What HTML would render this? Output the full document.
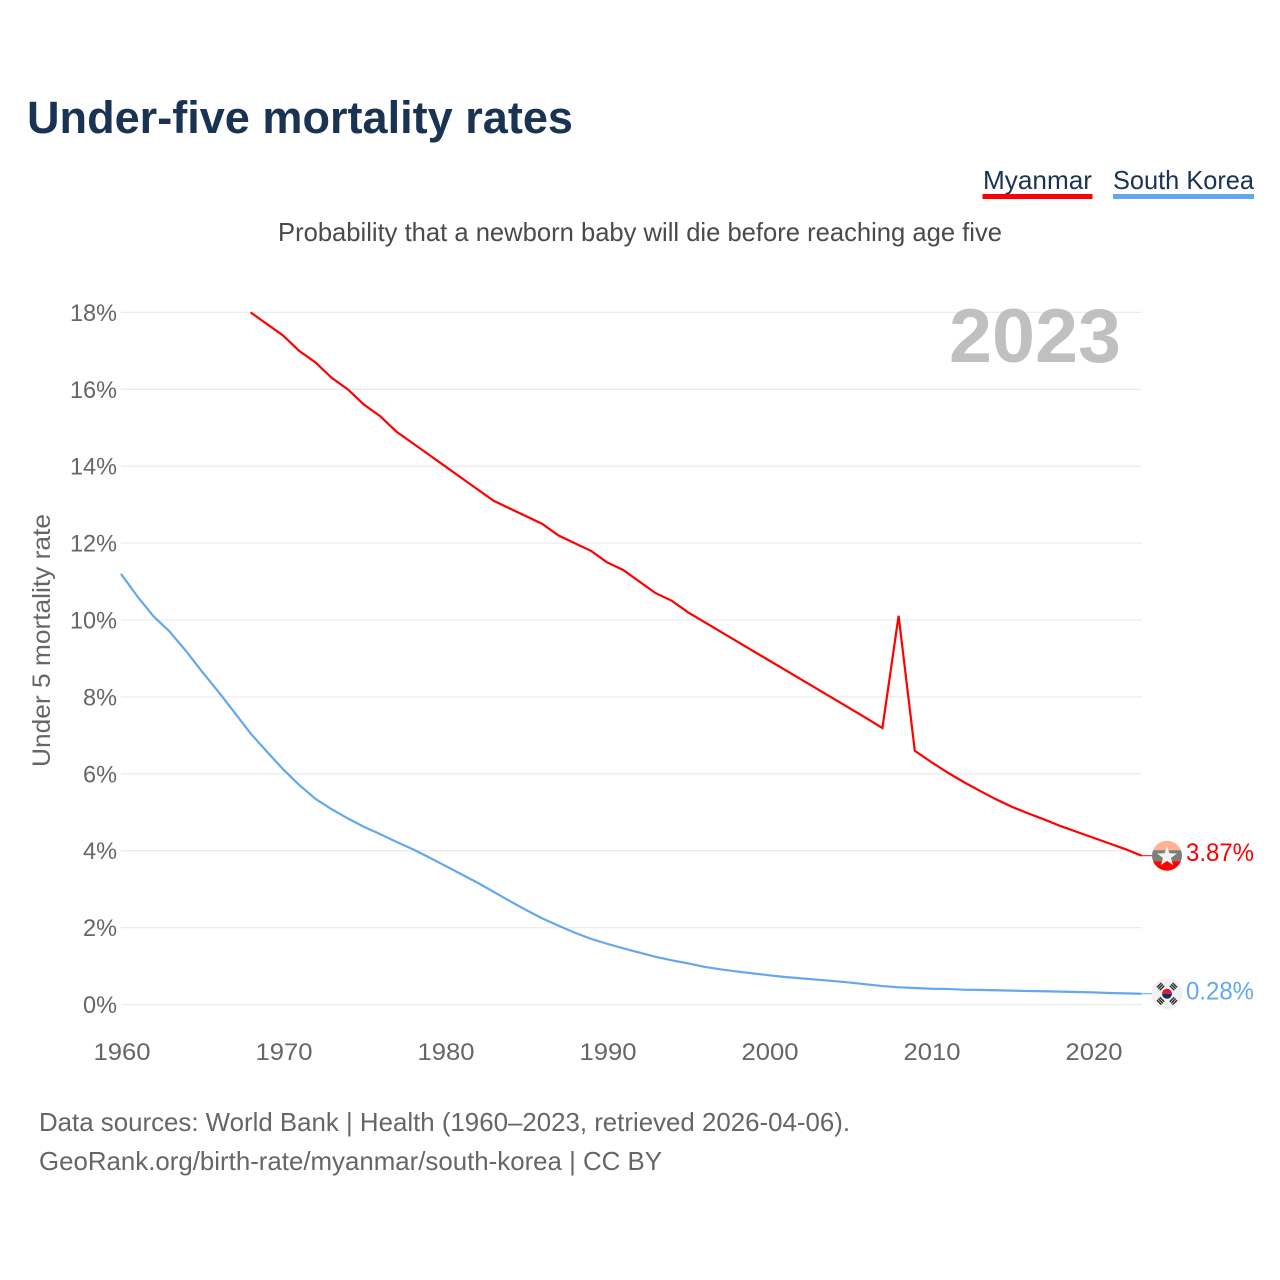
<!DOCTYPE html>
<html lang="en">
<head>
<meta charset="utf-8">
<title>Under-five mortality rates</title>
<style>
html,body{margin:0;padding:0;background:#fff;width:1280px;height:1280px;overflow:hidden}
svg{display:block}
text{font-family:"Liberation Sans",sans-serif}
</style>
</head>
<body>
<svg id="chart" xmlns="http://www.w3.org/2000/svg" width="1280" height="1280" viewBox="0 0 1280 1280">
  <defs>
    <clipPath id="clip-mm"><circle id="clip-mm-c" r="15"/></clipPath>
    <clipPath id="clip-kr"><circle id="clip-kr-c" r="15.5"/></clipPath>
  </defs>
  <rect width="1280" height="1280" fill="#fff"/>
  <text x="27" y="133" font-size="45" font-weight="700" fill="#1a3353" textLength="546" lengthAdjust="spacingAndGlyphs">Under-five mortality rates</text>
  <text x="983" y="189" font-size="26" fill="#1a3353" textLength="109" lengthAdjust="spacingAndGlyphs">Myanmar</text>
  <rect x="982.5" y="194" width="110" height="5" fill="#ff0000"/>
  <text x="1113" y="189" font-size="26" fill="#1a3353" textLength="141" lengthAdjust="spacingAndGlyphs">South Korea</text>
  <rect x="1113" y="194" width="141" height="5" fill="#64a7f0"/>
  <text x="278" y="241" font-size="26" fill="#4a4a4a" textLength="724" lengthAdjust="spacingAndGlyphs">Probability that a newborn baby will die before reaching age five</text>
  <g id="grid"></g>
  <text x="949" y="362" font-size="76" font-weight="700" fill="#c0c0c0" textLength="172" lengthAdjust="spacingAndGlyphs">2023</text>
  <g id="yticks"></g>
  <g id="xticks"></g>
  <text transform="translate(50,767) rotate(-90)" font-size="25" fill="#666" textLength="253" lengthAdjust="spacingAndGlyphs">Under 5 mortality rate</text>
  <g id="series"></g>
  <g id="ends"></g>
  <text x="39" y="1131" font-size="26" fill="#666" textLength="811" lengthAdjust="spacingAndGlyphs">Data sources: World Bank | Health (1960–2023, retrieved 2026-04-06).</text>
  <text x="39" y="1170" font-size="26" fill="#666" textLength="623" lengthAdjust="spacingAndGlyphs">GeoRank.org/birth-rate/myanmar/south-korea | CC BY</text>
</svg>
<script>
const yTickValues = [0, 2, 4, 6, 8, 10, 12, 14, 16, 18];
const xTickYears = [1960, 1970, 1980, 1990, 2000, 2010, 2020];
const myanmarYears = [1968,1969,1970,1971,1972,1973,1974,1975,1976,1977,1978,1979,1980,1981,1982,1983,1984,1985,1986,1987,1988,1989,1990,1991,1992,1993,1994,1995,1996,1997,1998,1999,2000,2001,2002,2003,2004,2005,2006,2007,2008,2009,2010,2011,2012,2013,2014,2015,2016,2017,2018,2019,2020,2021,2022,2023];
const myanmarValues = [18.0,17.7,17.4,17.0,16.7,16.3,16.0,15.6,15.3,14.9,14.6,14.3,14.0,13.7,13.4,13.1,12.9,12.7,12.5,12.2,12.0,11.8,11.5,11.3,11.0,10.7,10.5,10.2,9.95,9.7,9.45,9.2,8.95,8.7,8.45,8.2,7.95,7.7,7.45,7.19,10.11,6.6,6.31,6.04,5.79,5.56,5.34,5.14,4.97,4.81,4.64,4.49,4.34,4.19,4.04,3.87];
const koreaYears = [1960,1961,1962,1963,1964,1965,1966,1967,1968,1969,1970,1971,1972,1973,1974,1975,1976,1977,1978,1979,1980,1981,1982,1983,1984,1985,1986,1987,1988,1989,1990,1991,1992,1993,1994,1995,1996,1997,1998,1999,2000,2001,2002,2003,2004,2005,2006,2007,2008,2009,2010,2011,2012,2013,2014,2015,2016,2017,2018,2019,2020,2021,2022,2023];
const koreaValues = [11.2,10.62,10.1,9.7,9.2,8.66,8.14,7.6,7.05,6.58,6.12,5.71,5.35,5.08,4.84,4.62,4.43,4.23,4.04,3.83,3.61,3.39,3.17,2.93,2.69,2.46,2.24,2.05,1.87,1.71,1.58,1.46,1.35,1.24,1.15,1.07,0.98,0.915,0.86,0.81,0.76,0.715,0.68,0.645,0.61,0.57,0.525,0.48,0.447,0.43,0.41,0.405,0.385,0.38,0.37,0.36,0.35,0.345,0.335,0.325,0.315,0.3,0.29,0.28];

const NS = 'http://www.w3.org/2000/svg';
const xScale = function (year) { return 121 + (year - 1960) * 16.2; };
const yScale = function (pct) { return 1004.5 - pct * 38.45; };

function make(tag, parent, attrs, text) {
  const el = document.createElementNS(NS, tag);
  for (const k in attrs) el.setAttribute(k, attrs[k]);
  if (text !== undefined) el.textContent = text;
  parent.appendChild(el);
  return el;
}

const grid = document.getElementById('grid');
const yticks = document.getElementById('yticks');
const xticks = document.getElementById('xticks');
const series = document.getElementById('series');
const ends = document.getElementById('ends');
const endX = xScale(2023);

yTickValues.forEach(function (v) {
  const line = make('line', grid, {x1: xScale(1960), x2: endX, y1: yScale(v), y2: yScale(v), stroke: '#ececec', 'stroke-width': 1.3});
  
  
  const label = make('text', yticks, {x: 117, y: yScale(v) + 8.5, 'text-anchor': 'end', 'font-size': 24, fill: '#666', textLength: (v >= 10 ? 47 : 34), lengthAdjust: 'spacingAndGlyphs'}, v + '%');
  
  
});

xTickYears.forEach(function (year) {
  const label = make('text', xticks, {x: xScale(year) + 1, y: 1060, 'text-anchor': 'middle', 'font-size': 24, fill: '#666', textLength: 57, lengthAdjust: 'spacingAndGlyphs'}, String(year));
  
  
});

function pathFor(years, values) {
  return values.map(function (v, i) {
    return (i ? 'L' : 'M') + xScale(years[i]).toFixed(2) + ' ' + yScale(v).toFixed(2);
  }).join(' ');
}

const koreaLine = make('path', series, {d: pathFor(koreaYears, koreaValues), fill: 'none', stroke: '#64a7f0', 'stroke-width': 2.2, 'stroke-linejoin': 'round'});



const myanmarLine = make('path', series, {d: pathFor(myanmarYears, myanmarValues), fill: 'none', stroke: '#ff0000', 'stroke-width': 2.2, 'stroke-linejoin': 'miter'});



const flagX = 1167;
const mmLast = myanmarValues[myanmarValues.length - 1];
const krLast = koreaValues[koreaValues.length - 1];
const mmY = yScale(mmLast);
const krY = yScale(krLast);

const mmLead = make('line', ends, {x1: endX, x2: flagX - 15, y1: mmY, y2: mmY, stroke: '#ff0000', 'stroke-width': 1});


const krLead = make('line', ends, {x1: endX, x2: flagX - 15, y1: krY, y2: krY, stroke: '#64a7f0', 'stroke-width': 1});



document.getElementById('clip-mm-c').setAttribute('cx', flagX);
document.getElementById('clip-mm-c').setAttribute('cy', mmY);
document.getElementById('clip-kr-c').setAttribute('cx', flagX);
document.getElementById('clip-kr-c').setAttribute('cy', krY);

const mmFlag = make('g', ends, {'clip-path': 'url(#clip-mm)'});


make('rect', mmFlag, {x: flagX - 15, y: mmY - 16, width: 30, height: 10.5, fill: '#ffb394'});
make('rect', mmFlag, {x: flagX - 15, y: mmY - 5.5, width: 30, height: 11, fill: '#7b7f78'});
make('rect', mmFlag, {x: flagX - 15, y: mmY + 5.5, width: 30, height: 10, fill: '#ff0000'});
const starPts = [];
for (let i = 0; i < 10; i++) {
  const r = i % 2 ? 4.2 : 10.5;
  const a = -Math.PI / 2 + i * Math.PI / 5;
  starPts.push((flagX + r * Math.cos(a)).toFixed(2) + ',' + (mmY + 1 + r * Math.sin(a)).toFixed(2));
}
make('polygon', mmFlag, {points: starPts.join(' '), fill: '#f2f2f2'});

const krFlag = make('g', ends, {'clip-path': 'url(#clip-kr)'});


make('rect', krFlag, {x: flagX - 16, y: krY - 16, width: 32, height: 32, fill: '#f1f1f1'});
make('path', krFlag, {d: 'M' + (flagX - 5) + ' ' + krY + 'a5 5 0 0 1 10 0z', fill: '#e8112d'});
make('path', krFlag, {d: 'M' + (flagX - 5) + ' ' + krY + 'a5 5 0 0 0 10 0z', fill: '#12305f'});
[[-1, -1], [1, -1], [-1, 1], [1, 1]].forEach(function (s) {
  const cx = flagX + s[0] * 6.4;
  const cy = krY + s[1] * 7.2;
  const rot = s[0] * s[1] > 0 ? -45 : 45;
  [-2, 0, 2].forEach(function (off) {
    make('rect', krFlag, {x: cx - 3.2, y: cy + off - 0.7, width: 6.4, height: 1.4, fill: '#2a2a2a', transform: 'rotate(' + rot + ' ' + cx + ' ' + cy + ')'});
  });
});

const mmLabel = make('text', ends, {x: 1186, y: mmY + 5.5, 'font-size': 25, fill: '#ff0000', textLength: 68, lengthAdjust: 'spacingAndGlyphs'}, mmLast.toFixed(2) + '%');


const krLabel = make('text', ends, {x: 1186, y: krY + 6, 'font-size': 25, fill: '#64a7f0', textLength: 68, lengthAdjust: 'spacingAndGlyphs'}, krLast.toFixed(2) + '%');


</script>
</body>
</html>
